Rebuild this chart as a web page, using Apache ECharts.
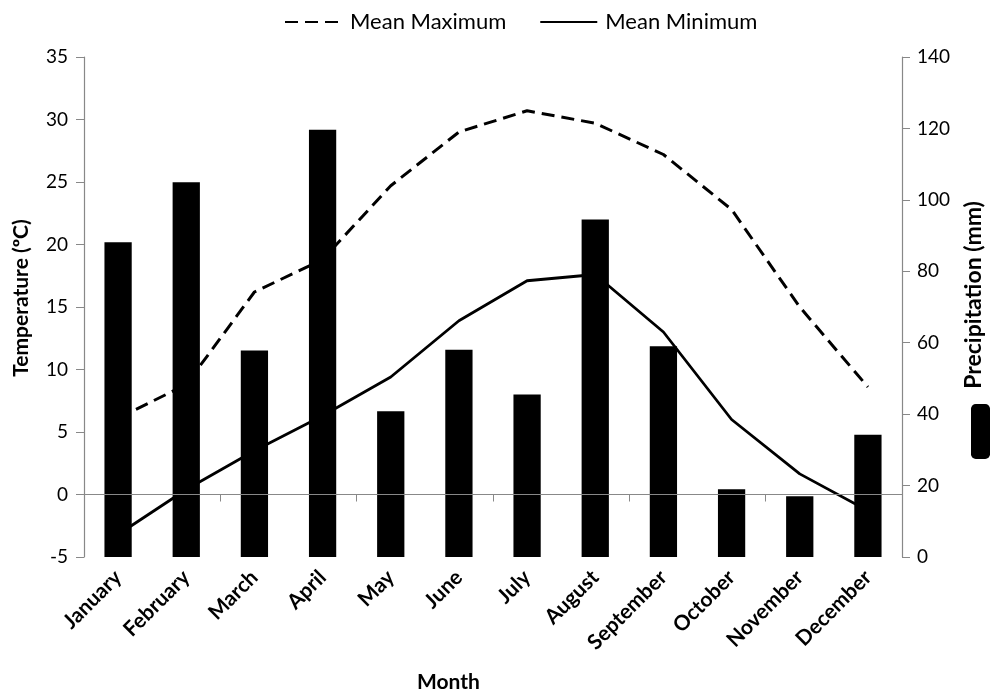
<!DOCTYPE html>
<html>
<head>
<meta charset="utf-8">
<script src="https://cdn.jsdelivr.net/npm/echarts@6/dist/echarts.min.js"></script>
<style>
html,body{margin:0;padding:0;background:#fff;}
#chart{width:993px;height:695px;}
</style>
</head>
<body>
<div id="chart"></div>
<script>
const months = ['January','February','March','April','May','June','July','August','September','October','November','December'];
const precipitation = [88.1, 104.9, 57.8, 119.6, 40.8, 58.0, 45.5, 94.5, 59.0, 19.0, 17.0, 34.2];
const meanMaximum = [6.1, 8.8, 16.2, 18.8, 24.7, 29.0, 30.7, 29.7, 27.2, 22.8, 15.0, 8.6];
const meanMinimum = [-3.2, 0.4, 3.5, 6.3, 9.4, 13.9, 17.1, 17.6, 13.0, 6.0, 1.65, -1.3];

const FONT = 'Lato';
const chart = echarts.init(document.getElementById('chart'), null, {renderer: 'canvas'});
chart.setOption({
  animation: false,
  backgroundColor: '#fff',
  textStyle: {fontFamily: FONT, color: '#000'},
  title: {
    text: 'Month', left: 412, top: 667,
    textStyle: {fontFamily: FONT, fontWeight: 'bold', fontSize: 21, color: '#000'}
  },
  legend: [{
    data: ['Mean Maximum', 'Mean Minimum'],
    left: 279, top: 6,
    itemWidth: 57, itemHeight: 14, itemGap: 33,
    itemStyle: {opacity: 0},
    textStyle: {fontFamily: FONT, fontSize: 22, color: '#000', padding: [0, 0, 0, 3]}
  }, {
    data: ['Precipitation'],
    orient: 'vertical',
    right: 3, top: 404,
    padding: 0,
    itemWidth: 19, itemHeight: 55,
    icon: 'roundRect',
    formatter: function () { return ''; },
    textStyle: {fontSize: 1}
  }],
  grid: {left: 84, right: 83, top: 57, bottom: 138, containLabel: false},
  xAxis: [{
    type: 'category', data: months, position: 'bottom',
    axisLine: {show: false, onZero: false},
    axisTick: {show: false},
    axisLabel: {rotate: 45, margin: 17, fontFamily: FONT, fontWeight: 'bold', fontSize: 21, color: '#000', interval: 0},
    splitLine: {show: false}
  }, {
    type: 'category', data: months, position: 'bottom', z: 10,
    axisLine: {show: true, onZero: true, onZeroAxisIndex: 0, lineStyle: {color: '#888', width: 1.2}},
    axisTick: {show: true, length: 7, lineStyle: {color: '#888'}},
    axisLabel: {show: false},
    splitLine: {show: false}
  }],
  yAxis: [{
    type: 'value', min: -5, max: 35, interval: 5, position: 'left',
    name: 'Temperature (ºC)', nameLocation: 'middle', nameRotate: 90, nameGap: 52,
    nameTextStyle: {fontFamily: FONT, fontWeight: 'bold', fontSize: 21, color: '#000', padding: [0, 0, 0, 18]},
    axisLine: {show: true, lineStyle: {color: '#888', width: 1.2}},
    axisTick: {show: true, length: 8, lineStyle: {color: '#888'}},
    axisLabel: {margin: 16, fontFamily: FONT, fontSize: 19, color: '#000'},
    splitLine: {show: false}
  }, {
    type: 'value', min: 0, max: 140, interval: 20, position: 'right',
    name: 'Precipitation (mm)', nameLocation: 'middle', nameRotate: 90, nameGap: 60,
    nameTextStyle: {fontFamily: FONT, fontWeight: 'bold', fontSize: 23, color: '#000', padding: [0, 0, 0, 24]},
    axisLine: {show: true, lineStyle: {color: '#888', width: 1.2}},
    axisTick: {show: true, length: 8, lineStyle: {color: '#888'}},
    axisLabel: {margin: 15, fontFamily: FONT, fontSize: 19, color: '#000'},
    splitLine: {show: false}
  }],
  series: [{
    name: 'Mean Maximum', type: 'line', data: meanMaximum,
    xAxisIndex: 0, yAxisIndex: 0, z: 2,
    symbol: 'none', showSymbol: false,
    lineStyle: {color: '#000', width: 3, type: [13, 7]},
    itemStyle: {color: '#000'}
  }, {
    name: 'Mean Minimum', type: 'line', data: meanMinimum,
    xAxisIndex: 0, yAxisIndex: 0, z: 2,
    symbol: 'none', showSymbol: false,
    lineStyle: {color: '#000', width: 2.8, type: 'solid'},
    itemStyle: {color: '#000'}
  }, {
    name: 'Precipitation', type: 'bar', data: precipitation,
    xAxisIndex: 0, yAxisIndex: 1, z: 3,
    barWidth: '40%',
    itemStyle: {color: '#000'}
  }]
});
</script>
</body>
</html>
